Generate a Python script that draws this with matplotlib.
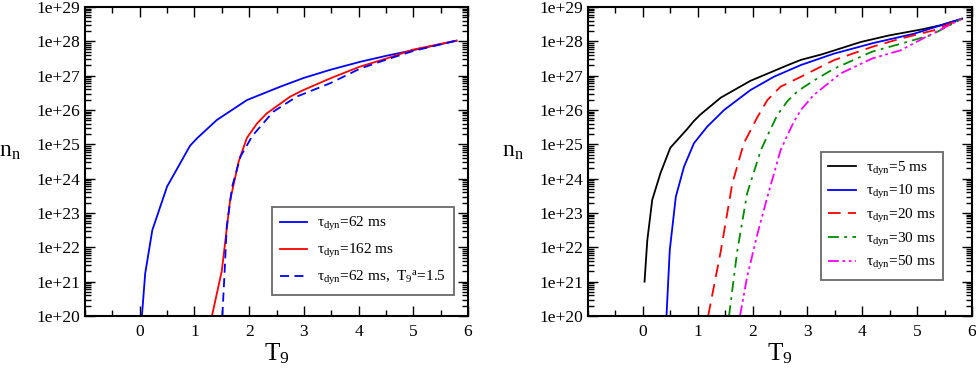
import numpy as np
import matplotlib.pyplot as plt
from matplotlib.ticker import FixedLocator, FuncFormatter, LogLocator, MultipleLocator, NullFormatter

plt.rcParams['font.family'] = ['Liberation Serif', 'DejaVu Serif']
plt.rcParams['mathtext.fontset'] = 'custom'
plt.rcParams['mathtext.rm'] = 'Liberation Serif'
plt.rcParams['mathtext.it'] = 'Liberation Serif:italic'

# panel (a): log10(n_n) against T9
t_62 = [0.04, 0.10, 0.23, 0.5, 0.92, 1.05, 1.41, 1.96, 2.57, 2.99, 3.48, 4.02, 4.51, 4.99, 5.79]
n_62 = [20.0, 21.24, 22.5, 23.77, 24.96, 25.18, 25.71, 26.29, 26.68, 26.93, 27.17, 27.4, 27.58, 27.74, 28.02]
t_162 = [1.32, 1.50, 1.65, 1.81, 1.96, 2.14, 2.32, 2.75, 2.99, 3.48, 4.02, 4.51, 5.0, 5.79]
n_162 = [20.0, 21.31, 23.35, 24.51, 25.19, 25.6, 25.9, 26.39, 26.58, 26.92, 27.26, 27.5, 27.76, 28.02]
t_62a = [1.51, 1.55, 1.59, 1.69, 1.84, 2.06, 2.44, 2.87, 3.48, 4.02, 4.51, 5.0, 5.79]
n_62a = [20.0, 21.24, 22.6, 23.77, 24.64, 25.25, 25.95, 26.39, 26.78, 27.2, 27.47, 27.72, 28.02]

# panel (b)
t_5 = [0.03, 0.08, 0.17, 0.32, 0.5, 0.81, 0.93, 1.05, 1.42, 1.96, 2.63, 2.88, 3.26, 3.97, 4.48, 5.09, 5.43, 5.82]
n_5 = [21.0, 22.2, 23.38, 24.16, 24.9, 25.45, 25.68, 25.87, 26.36, 26.85, 27.3, 27.46, 27.62, 27.98, 28.17, 28.35,
       28.47, 28.66]
t_10 = [0.43, 0.49, 0.6, 0.75, 0.93, 1.17, 1.48, 1.96, 2.39, 2.88, 3.48, 4.2, 4.94, 5.82]
n_10 = [20.0, 21.92, 23.47, 24.35, 25.03, 25.51, 26.0, 26.58, 26.97, 27.31, 27.64, 27.95, 28.22, 28.66]
t_20 = [1.19, 1.42, 1.63, 1.84, 2.09, 2.27, 2.51, 2.82, 3.48, 4.18, 4.70, 5.30, 5.82]
n_20 = [20.0, 21.89, 23.86, 25.03, 25.8, 26.29, 26.68, 26.92, 27.45, 27.84, 28.08, 28.32, 28.66]
t_30 = [1.57, 1.72, 1.9, 2.15, 2.3, 2.45, 2.63, 2.82, 3.14, 3.48, 4.18, 4.70, 5.25, 5.82]
n_30 = [20.0, 21.89, 23.57, 24.83, 25.35, 25.85, 26.25, 26.55, 26.88, 27.2, 27.7, 27.93, 28.18, 28.66]
t_50 = [1.77, 1.9, 2.09, 2.27, 2.51, 2.63, 2.75, 2.88, 3.11, 3.6, 4.18, 4.70, 5.15, 5.82]
n_50 = [20.0, 21.14, 22.4, 23.47, 24.83, 25.25, 25.65, 26.0, 26.43, 27.06, 27.5, 27.74, 28.12, 28.66]

x_ticks = [0, 1, 2, 3, 4, 5, 6]
y_exp = list(range(20, 30))

fig = plt.figure(figsize=(9.76, 3.73), dpi=100)
ax1 = fig.add_axes([0.0871, 0.1528, 0.3924, 0.8284])
ax2 = fig.add_axes([0.6025, 0.1528, 0.3934, 0.8284])

lw = 1.3
ax1.plot(t_62, 10.0 ** np.array(n_62), color='#0000ff', lw=lw, label='τ$_{\\rm dyn}$=62 ms')
ax1.plot(t_162, 10.0 ** np.array(n_162), color='#ff0000', lw=lw, label='τ$_{\\rm dyn}$=162 ms')
ax1.plot(t_62a, 10.0 ** np.array(n_62a), color='#0000ff', lw=lw, dashes=(5, 3),
         label='τ$_{\\rm dyn}$=62 ms,  T$_9$$^{\\rm a}$=1.5')

ax2.plot(t_5, 10.0 ** np.array(n_5), color='black', lw=lw, label='τ$_{\\rm dyn}$=5 ms')
ax2.plot(t_10, 10.0 ** np.array(n_10), color='#0000ff', lw=lw, label='τ$_{\\rm dyn}$=10 ms')
ax2.plot(t_20, 10.0 ** np.array(n_20), color='#ff0000', lw=lw, dashes=(7, 4), label='τ$_{\\rm dyn}$=20 ms')
ax2.plot(t_30, 10.0 ** np.array(n_30), color='#008b00', lw=lw, dashes=(6, 3, 1.5, 3),
         label='τ$_{\\rm dyn}$=30 ms')
ax2.plot(t_50, 10.0 ** np.array(n_50), color='#ff00ff', lw=lw, dashes=(6, 2, 1.5, 2, 1.5, 2),
         label='τ$_{\\rm dyn}$=50 ms')

for ax in (ax1, ax2):
    ax.set_yscale('log')
    ax.set_xlim(-1, 6)
    ax.set_ylim(1e20, 1e29)
    ax.xaxis.set_major_locator(FixedLocator(x_ticks))
    ax.xaxis.set_minor_locator(MultipleLocator(0.5))
    ax.yaxis.set_major_locator(FixedLocator([10.0 ** e for e in y_exp]))
    ax.yaxis.set_minor_locator(LogLocator(base=10, subs=np.arange(2, 10), numticks=20))
    ax.yaxis.set_minor_formatter(NullFormatter())
    ax.yaxis.set_major_formatter(FuncFormatter(lambda v, p: '1e+%d' % round(np.log10(v))))
    ax.tick_params(which='both', direction='in', top=True, right=True, labelsize=12.5, width=1.0)
    ax.tick_params(which='major', length=7)
    ax.tick_params(which='minor', length=4)
    ax.tick_params(axis='x', pad=6)
    for s in ax.spines.values():
        s.set_linewidth(1.5)
    ax.set_xlabel(r'T$_9$', fontsize=18, labelpad=1)
    ax.set_ylabel(r'n$_{\rm n}$', fontsize=17, rotation=0, labelpad=19)

leg_kw = dict(fontsize=11, fancybox=False, edgecolor='#444444', handlelength=1.8,
              handletextpad=0.65, borderpad=0.5, borderaxespad=0)
leg1 = ax1.legend(loc='lower right', bbox_to_anchor=(0.963, 0.068), labelspacing=0.6, **leg_kw)
leg1.get_frame().set_linewidth(1.3)
leg2 = ax2.legend(loc='lower right', bbox_to_anchor=(0.924, 0.117), labelspacing=0.37, **leg_kw)
leg2.get_frame().set_linewidth(1.3)

fig.savefig('out.png', dpi=100)
